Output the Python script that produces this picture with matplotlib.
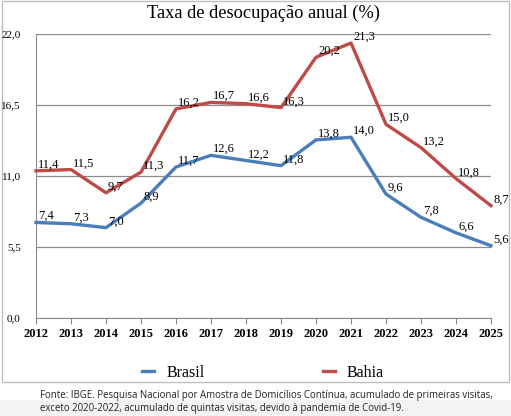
import matplotlib
matplotlib.use("Agg")
import matplotlib.pyplot as plt
from matplotlib.patches import Rectangle
from matplotlib.lines import Line2D

years = [2012, 2013, 2014, 2015, 2016, 2017, 2018, 2019, 2020, 2021, 2022, 2023, 2024, 2025]
brasil = [7.4, 7.3, 7.0, 8.9, 11.7, 12.6, 12.2, 11.8, 13.8, 14.0, 9.6, 7.8, 6.6, 5.6]
bahia = [11.4, 11.5, 9.7, 11.3, 16.2, 16.7, 16.6, 16.3, 20.2, 21.3, 15.0, 13.2, 10.8, 8.7]
yticks = [0.0, 5.5, 11.0, 16.5, 22.0]
title = "Taxa de desocupação anual (%)"
series_names = ["Brasil", "Bahia"]
footer = ("Fonte: IBGE. Pesquisa Nacional por Amostra de Domicílios Contínua, acumulado de primeiras visitas,\n"
          "exceto 2020-2022, acumulado de quintas visitas, devido à pandemia de Covid-19.")

W, H = 511, 416
fig = plt.figure(figsize=(W / 100, H / 100), dpi=100)
serif = "Liberation Serif"

# background band and chart border
fig.patches.append(Rectangle((0, 0), 1, 1 - 400 / H, transform=fig.transFigure,
                             facecolor="#f3f3f3", edgecolor="none", zorder=-2))
fig.patches.append(Rectangle((1.5 / W, 1 - 382 / H), 507 / W, 381 / H, transform=fig.transFigure,
                             facecolor="white", edgecolor="#bfbfbf", linewidth=1.0, zorder=-1))

ax = fig.add_axes([36 / W, 1 - 318 / H, (491 - 36) / W, (318 - 34) / H])
ax.set_facecolor("none")
c_br = "#4a7ebb"
c_ba = "#be4b48"
ax.plot(years, brasil, color=c_br, lw=2.4, solid_joinstyle="round", zorder=3, clip_on=False)
ax.plot(years, bahia, color=c_ba, lw=2.4, solid_joinstyle="round", zorder=3, clip_on=False)

def fmt(v):
    return f"{v:.1f}".replace(".", ",")

for series in (brasil, bahia):
    for x, v in zip(years, series):
        ax.annotate(fmt(v), (x, v), xytext=(1.5, 4.5), textcoords="offset points",
                    ha="left", va="center", fontsize=9, family=serif, color="black", zorder=4)

ax.set_xlim(years[0], years[-1])
ax.set_ylim(yticks[0], yticks[-1])
ax.set_yticks(yticks)
ax.set_yticklabels([fmt(v) for v in yticks], family=serif, fontsize=8)
ax.set_xticks(years)
ax.set_xticklabels([str(y) for y in years], family=serif, fontsize=9, fontweight="bold")
ax.grid(axis="y", color="#8c8c8c", lw=0.9)
ax.set_axisbelow(True)
for s in ("top", "right"):
    ax.spines[s].set_visible(False)
ax.spines["left"].set_color("#8c8c8c")
ax.spines["bottom"].set_color("#8c8c8c")
ax.tick_params(axis="y", length=0, pad=11)
ax.tick_params(axis="x", length=4, color="#8c8c8c", pad=3.5, direction="out")

fig.text(263 / W, 1 - 13 / H, title, ha="center", va="center", family=serif, fontsize=13.2)

handles = [Line2D([], [], color=c_br, lw=2.4), Line2D([], [], color=c_ba, lw=2.4)]
fig.legend(handles, series_names, loc="center", bbox_to_anchor=(263 / W, 1 - 373 / H),
           ncol=2, frameon=False, prop={"family": serif, "size": 11.5},
           handlelength=0.75, columnspacing=7.4, handletextpad=0.75)

fig.text(40 / W, 1 - 402 / H, footer, ha="left", va="center", family="Open Sans",
         fontsize=6.9, color="#222222", linespacing=1.2)

fig.savefig("out.png", dpi=100)
